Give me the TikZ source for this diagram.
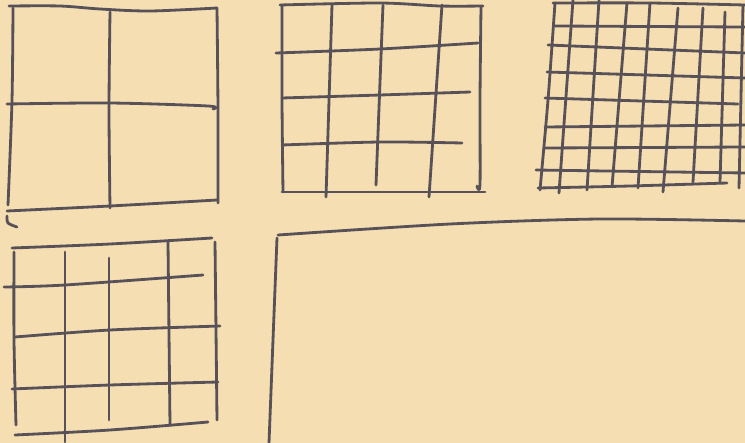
\documentclass[tikz,border=0pt]{standalone}
\usepackage{tikz}
\usetikzlibrary{positioning}
\usepackage{xcolor}
\definecolor{paper}{RGB}{244,222,178}
\definecolor{ink}{RGB}{88,82,88}

\begin{document}
\begin{tikzpicture}[x=0.02cm, y=-0.02cm,
    pen/.style={draw=ink, line width=1.6pt, line cap=round, line join=round}]
  \fill[paper] (0,0) rectangle (745,443);
  \useasboundingbox (0,0) rectangle (745,443);
  % 2 x 2 grid
  \draw[pen] plot[smooth] coordinates {(9,6) (60,6) (100,9) (150,11) (217,8)};
  \draw[pen] plot[smooth] coordinates {(13,8) (12,100) (8,205)};
  \draw[pen] plot[smooth] coordinates {(217,8) (218,110) (218,203)};
  \draw[pen] plot[smooth] coordinates {(110,12) (109,110) (110,208)};
  \draw[pen] plot[smooth] coordinates {(7,104) (110,103) (208,106) (213,109)};
  \draw[pen] plot[smooth] coordinates {(7,211) (110,206) (217,200)};
  \draw[pen] plot[smooth] coordinates {(7,216) (8,223) (17,227)};
  % 4 x 4 grid, top
  \draw[pen] plot[smooth] coordinates {(280,5) (380,3) (440,6) (483,6)};
  \draw[pen] plot[smooth] coordinates {(282,5) (282,100) (283,192)};
  \draw[pen] plot[smooth] coordinates {(282,192) (380,192) (485,192)};
  \draw[pen] plot[smooth] coordinates {(481,7) (480,100) (480,184) (477,186)};
  \foreach \xa/\xb/\yb in {332/326/197, 383/376/185, 442/429/197}
    \draw[pen] (\xa,5) -- (\xb,\yb);
  \draw[pen] plot[smooth] coordinates {(276,53) (380,49) (478,43)};
  \draw[pen] plot[smooth] coordinates {(282,98) (380,95) (470,92)};
  \draw[pen] plot[smooth] coordinates {(282,145) (380,142) (462,143)};
  % fine grid
  \draw[pen] plot[smooth] coordinates {(553,3) (650,3) (745,5)};
  \draw[pen] plot[smooth] coordinates {(555,3) (548,100) (540,190)};
  \foreach \xa/\ya/\xb/\yb in {573/0/559/193, 599/0/587/190, 627/3/612/187,
      650/3/638/188, 678/8/663/192, 703/8/693/182, 725/12/720/182, 743/5/739/188}
    \draw[pen] (\xa,\ya) -- (\xb,\yb);
  \foreach \xa/\ya/\xb/\yb in {555/26/745/27, 548/45/745/53, 547/72/745/78,
      545/98/738/104, 545/127/745/125, 545/148/745/147, 536/170/745/173}
    \draw[pen] (\xa,\ya) -- (\xb,\yb);
  \draw[pen] plot[smooth] coordinates {(538,188) (630,186) (727,183)};
  % 4 x 4 grid, bottom
  \draw[pen] plot[smooth] coordinates {(12,248) (110,244) (212,238)};
  \draw[pen] plot[smooth] coordinates {(14,252) (14,340) (16,425)};
  \draw[pen] plot[smooth] coordinates {(15,435) (110,430) (208,422)};
  \draw[pen] plot[smooth] coordinates {(215,242) (216,330) (217,420)};
  \draw[pen] (65,252) -- (65,442);
  \draw[pen] (109,258) -- (109,420);
  \draw[pen] (168,242) -- (170,425);
  \draw[pen] plot[smooth] coordinates {(4,287) (65,285) (203,275)};
  \draw[pen] plot[smooth] coordinates {(15,337) (110,330) (220,326)};
  \draw[pen] plot[smooth] coordinates {(12,389) (110,385) (218,382)};
  % open frame
  \draw[pen] plot[smooth] coordinates {(277,238) (273,340) (269,443)};
  \draw[pen] plot[smooth] coordinates {(278,235) (450,224) (600,219) (745,221)};
\end{tikzpicture}
\end{document}
